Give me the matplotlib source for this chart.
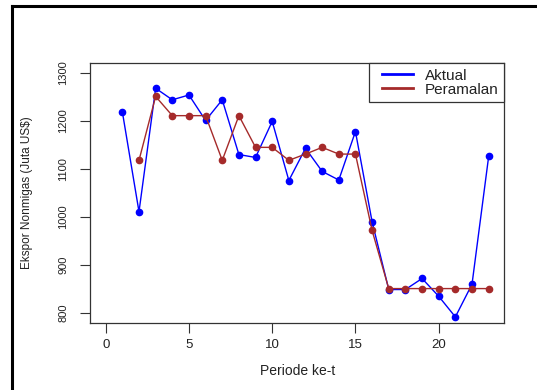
import matplotlib
matplotlib.use("Agg")
import matplotlib.pyplot as plt
from matplotlib.lines import Line2D
from matplotlib.legend_handler import HandlerLine2D

plt.rcParams['font.family'] = ['Liberation Sans', 'DejaVu Sans']

periode_aktual = list(range(1, 24))
aktual = [1219, 1011, 1268, 1244, 1254, 1201, 1244, 1130, 1124, 1199, 1076, 1143,
          1095, 1077, 1178, 990, 849, 849, 872, 835, 792, 860, 1126]
periode_ramal = list(range(2, 24))
peramalan = [1118, 1251, 1211, 1211, 1211, 1118, 1211, 1145, 1145, 1118, 1131,
             1145, 1131, 1131, 972, 851, 851, 851, 851, 851, 851, 851]
x_ticks = [0, 5, 10, 15, 20]
y_ticks = [800, 900, 1000, 1100, 1200, 1300]
labels = ['Aktual', 'Peramalan']

c_blue = '#0000FF'
c_red = '#A52A2A'
axc = '#333333'
txtc = '#222222'

fig = plt.figure(figsize=(5.37, 3.90), dpi=100)
ax = fig.add_axes([0.1683, 0.1726, 0.9385 - 0.1683, 0.8377 - 0.1726])

ax.plot(periode_aktual, aktual, color=c_blue, lw=1.0, marker='o', ms=4.5,
        mec=c_blue, mfc=c_blue)
ax.plot(periode_ramal, peramalan, color=c_red, lw=1.0, marker='o', ms=4.5,
        mec=c_red, mfc=c_red)

ax.set_xlim(-0.92, 23.92)
ax.set_ylim(780, 1320)
ax.set_xticks(x_ticks)
ax.set_yticks(y_ticks)
ax.set_xticklabels([str(v) for v in x_ticks], fontsize=9.5, color=txtc)
ax.set_yticklabels([str(v) for v in y_ticks], fontsize=8, color=txtc,
                   rotation=90, va='center')
ax.tick_params(axis='x', length=7, width=0.8, color=axc, pad=5)
ax.tick_params(axis='y', length=7, width=0.8, color=axc, pad=9)
for s in ax.spines.values():
    s.set_color(axc)
    s.set_linewidth(0.9)

ax.set_xlabel('Periode ke-t', fontsize=10, color=txtc, labelpad=9)
ax.set_ylabel('Ekspor Nonmigas (Juta US$)', fontsize=8.5, color=txtc, labelpad=18)

handles = [Line2D([], [], color=c_blue, lw=2), Line2D([], [], color=c_red, lw=2)]
hm = {h: HandlerLine2D(xpad=0.49) for h in handles}
leg = ax.legend(handles, labels, loc='upper right', handler_map=hm,
                bbox_to_anchor=(1, 1), borderaxespad=0, fontsize=11,
                frameon=True, fancybox=False, edgecolor=axc, framealpha=1,
                handlelength=2.52, handletextpad=0.78, borderpad=0.36,
                labelspacing=0.0)
leg.get_frame().set_linewidth(0.9)
for t in leg.get_texts():
    t.set_color(txtc)

# outer frame lines of the picture
fig.add_artist(Line2D([12 / 537, 12 / 537], [0, 1 - 6 / 390], color='black', lw=2.2,
                      transform=fig.transFigure))
fig.add_artist(Line2D([12 / 537, 1], [1 - 6 / 390, 1 - 6 / 390], color='black', lw=2.2,
                      transform=fig.transFigure))

fig.savefig('out.png', dpi=100)
